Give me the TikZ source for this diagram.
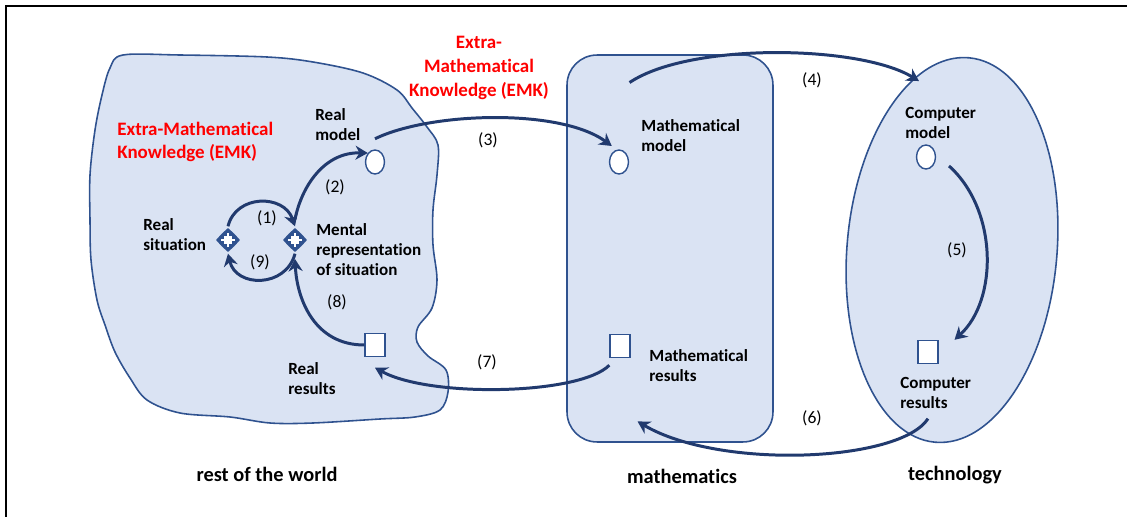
\documentclass[tikz,border=0pt]{standalone}
\usepackage{fontspec}
\setmainfont{Carlito}[Ligatures=NoCommon]
\usetikzlibrary{shapes.geometric,arrows.meta}

\definecolor{areafill}{RGB}{218,227,243}
\definecolor{arealine}{RGB}{47,82,143}
\definecolor{flowblue}{RGB}{33,58,110}
\definecolor{emkred}{RGB}{255,0,0}

\begin{document}
\begin{tikzpicture}[
  x=0.02cm,
  y=-0.02cm,
  area/.style={
      draw=arealine,
      fill=areafill,
      line width=0.9pt
  },
  mathbox/.style={
      area,
      rectangle,
      rounded corners=0.6cm,
      minimum width=4.12cm,
      minimum height=7.74cm
  },
  techbox/.style={
      area,
      ellipse,
      minimum width=4.2cm,
      minimum height=7.72cm
  },
  modelnode/.style={
      ellipse,
      draw=arealine,
      fill=white,
      line width=0.8pt,
      minimum width=0.38cm,
      minimum height=0.48cm,
      inner sep=0pt
  },
  resultnode/.style={
      rectangle,
      draw=arealine,
      fill=white,
      line width=0.8pt,
      minimum width=0.4cm,
      minimum height=0.46cm,
      inner sep=0pt
  },
  situation/.style={
      star,
      star points=4,
      star point ratio=1.35,
      draw=arealine,
      fill=arealine,
      line width=0.8pt,
      minimum size=0.44cm,
      inner sep=0pt,
      path picture={
        \fill[white]
        ([shift={(-2.2pt,-2.2pt)}]path picture bounding box.center)
        rectangle ([shift={(2.2pt,2.2pt)}]path picture bounding box.center);
        \draw[white, line width=1.2pt, shorten <=2.2pt, shorten >=2.2pt]
        (path picture bounding box.north) -- (path picture bounding box.south);
        \draw[white, line width=1.2pt, shorten <=2.2pt, shorten >=2.2pt]
        (path picture bounding box.west) -- (path picture bounding box.east);
      }
  },
  lbl/.style={
      align=left,
      anchor=west,
      inner sep=0pt,
      font=\fontsize{9.7}{11.4}\selectfont\bfseries
  },
  emk/.style={
      text=emkred,
      inner sep=0pt,
      font=\fontsize{10.8}{13.4}\selectfont\bfseries
  },
  region/.style={
      inner sep=0pt,
      font=\fontsize{11.6}{14}\selectfont\bfseries
  },
  stepno/.style={
      inner sep=0pt,
      font=\fontsize{10}{12}\selectfont
  },
  flow/.style={
      draw=flowblue,
      line width=1.7pt,
      -{Stealth[length=7pt,width=8pt]}
  }
]

\useasboundingbox (0,0) rectangle (1127,517);

% ==================================================
% Frame
% ==================================================

\draw[line width=1.1pt]
(6,517) -- (6,6) -- (1127,6);

% ==================================================
% Areas
% ==================================================

\draw[area]
plot[smooth cycle, tension=0.55] coordinates {
(123,55) (180,55) (267,57) (313,62) (363,73) (397,90)
(412,108) (427,127) (438,145) (437,175) (433,210) (433,245)
(437,280) (432,308) (418,327) (417,342) (428,356) (446,370)
(448,392) (440,410) (415,417) (380,419) (313,423) (270,423)
(230,417) (180,413) (147,400) (130,378) (115,352) (105,325)
(97,300) (91,260) (90,220) (90,175) (95,130) (102,95) (110,68)
};

\node[mathbox] (mathbox) at (670,248.5) {};

\node[techbox, rotate=-5] (techbox) at (952,250) {};

% ==================================================
% Nodes
% ==================================================

\node[situation] (rsit) at (228,240) {};
\node[situation] (ment) at (295,240) {};

\node[modelnode] (rmodel) at (375,162) {};
\node[modelnode] (mmodel) at (619,162) {};
\node[modelnode] (cmodel) at (926,157) {};

\node[resultnode] (rres) at (375,345) {};
\node[resultnode] (mres) at (620,346) {};
\node[resultnode] (cres) at (928,352) {};

% ==================================================
% Texts
% ==================================================

\node[lbl] (rsittxt) at (143,235) {Real\\situation};
\node[lbl] (menttxt) at (316,250) {Mental\\representation\\of situation};
\node[lbl] (rmodeltxt) at (315,125) {Real\\model};
\node[lbl] (rrestxt) at (288,379) {Real\\results};
\node[lbl] (mmodeltxt) at (641,136) {Mathematical\\model};
\node[lbl] (mrestxt) at (649,366) {Mathematical\\results};
\node[lbl] (cmodeltxt) at (905,123) {Computer\\model};
\node[lbl] (crestxt) at (900,393) {Computer\\results};

\node[emk, align=left, anchor=west] (emkleft) at (117,142)
{Extra-Mathematical\\Knowledge (EMK)};
\node[emk, align=center] (emkmid) at (479,68)
{Extra-\\Mathematical\\Knowledge (EMK)};

\node[region] (world) at (267,474) {rest of the world};
\node[region] (maths) at (682,476) {mathematics};
\node[region] (techno) at (955,475) {technology};

% ==================================================
% Connections
% ==================================================

\draw[flow]
([yshift=1pt]rsit.north) .. controls (236,194) and (284,194) .. ([yshift=1pt]ment.north);
\node[stepno] (s1) at (267,218) {(1)};

\draw[flow]
([yshift=5pt]ment.north) .. controls (302,185) and (325,152) .. (rmodel.north west);
\node[stepno] (s2) at (335,187) {(2)};

\draw[flow]
([yshift=6pt]rmodel.north) .. controls (430,112) and (560,108) .. ([yshift=4pt]mmodel.north west);
\node[stepno] (s3) at (488,140) {(3)};

\draw[flow]
([shift={(6pt,38pt)}]mmodel.north) .. controls (690,42) and (860,45) .. ([shift={(-4pt,36pt)}]cmodel.north);
\node[stepno] (s4) at (812,80) {(4)};

\draw[flow]
([xshift=9pt]cmodel.south east) .. controls (998,210) and (998,300) .. ([xshift=9pt]cres.north east);
\node[stepno] (s5) at (957,250) {(5)};

\draw[flow]
([yshift=-31pt]cres.south) .. controls (900,462) and (720,470) .. ([shift={(10pt,-36pt)}]mres.south);
\node[stepno] (s6) at (812,418) {(6)};

\draw[flow]
([yshift=-4pt]mres.south west) .. controls (580,395) and (430,398) .. ([yshift=-6pt]rres.south);
\node[stepno] (s7) at (487,362) {(7)};

\draw[flow]
(rres.west) .. controls (315,345) and (297,300) .. ([yshift=-4pt]ment.south);
\node[stepno] (s8) at (337,302) {(8)};

\draw[flow]
([yshift=-1pt]ment.south) .. controls (286,288) and (236,288) .. ([yshift=-1pt]rsit.south);
\node[stepno] (s9) at (260,262) {(9)};

\end{tikzpicture}
\end{document}
